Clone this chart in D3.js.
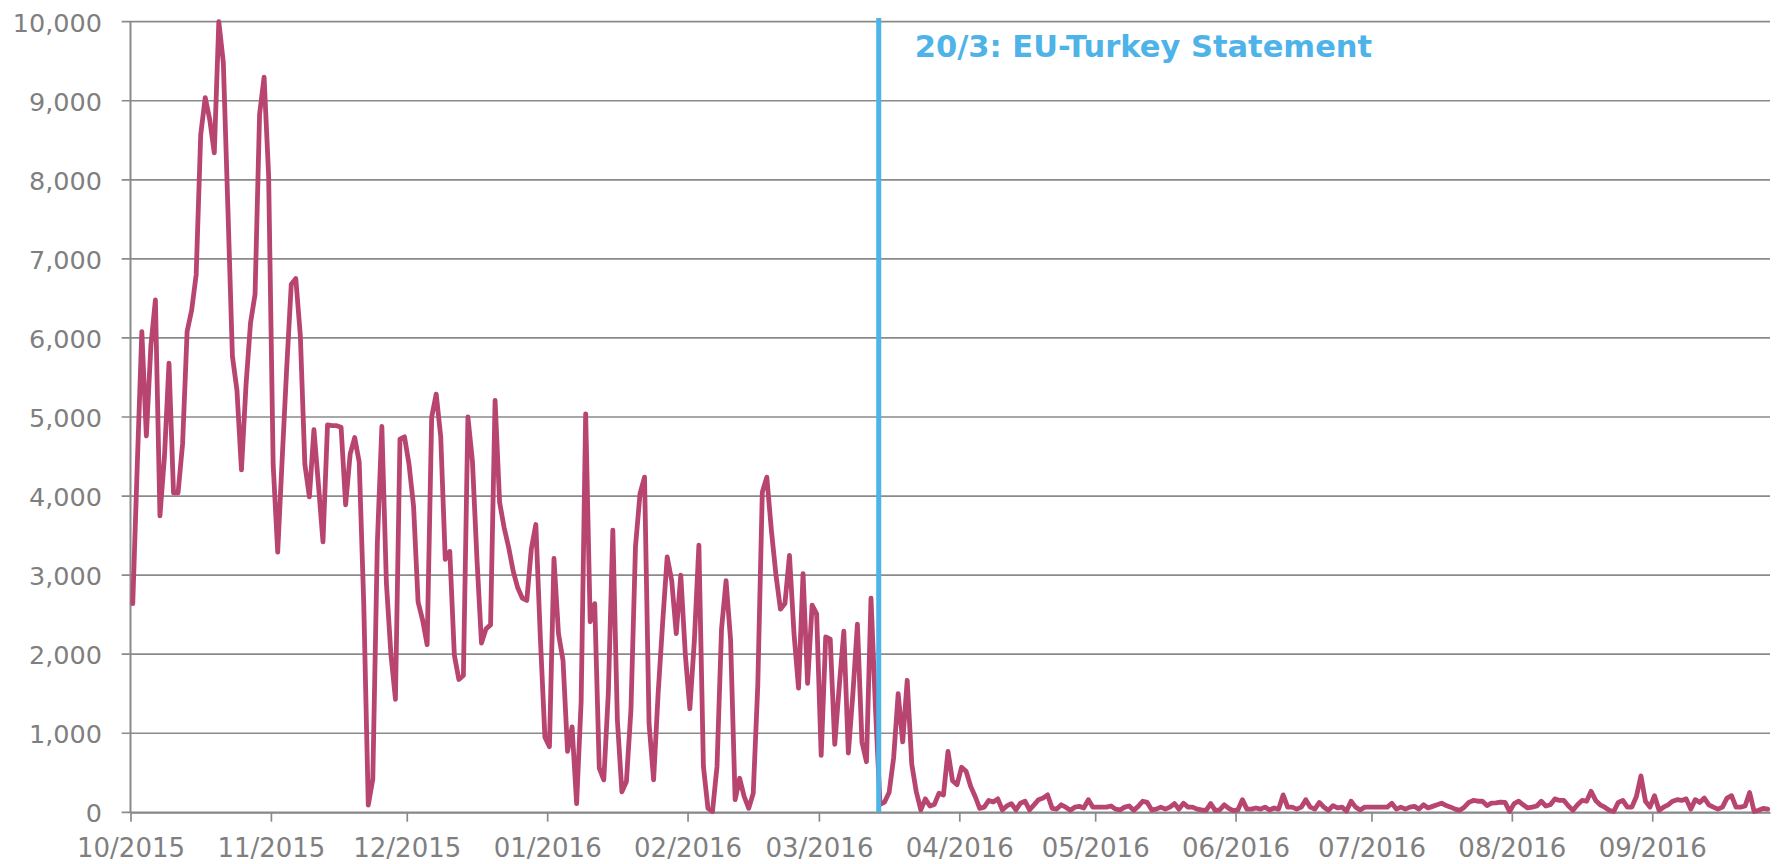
<!DOCTYPE html>
<html>
<head>
<meta charset="utf-8">
<script src="https://cdn.jsdelivr.net/npm/d3@7"></script>
<style>
  html, body { margin: 0; padding: 0; background: #ffffff; }
  svg { display: block; }
</style>
</head>
<body>
<svg id="chart" width="1777" height="864"></svg>
<script>
// ---------------- DATA (daily arrivals) ----------------
const startDate = new Date(2015, 9, 1); // 1 Oct 2015

const oct2015 = [2640,4400,6080,4760,5900,6480,3750,4500,5680,4040,4040,4660,6080,6350,6800,8570,9040,8760,8340,10000,9480,7650,5770,5340,4330,5400,6190,6550,8830,9300,8050];
const nov2015 = [4400,3290,4480,5630,6680,6750,6030,4400,3990,4840,4140,3420,4900,4890,4890,4870,3890,4530,4740,4430,2640,90,420,3400,4880,2900,2000,1430,4720,4750];
const dec2015 = [4400,3870,2660,2430,2120,5000,5290,4750,3200,3300,1990,1680,1730,5000,4440,3200,2140,2320,2370,5210,3920,3600,3350,3050,2840,2710,2680,3330,3640,2200,950];
const jan2016 = [830,3210,2260,1920,770,1080,110,1400,5040,2410,2640,560,410,1500,3570,1170,260,390,1300,3360,4030,4240,1120,410,1500,2400,3230,2930,2260,3000,2000];
const feb2016 = [1310,2170,3380,580,50,10,580,2320,2930,2180,160,430,200,50,240,1600,4050,4240,3570,3010,2570,2640,3250,2260,1570,3020,1630,2620,2510];
const mar2016 = [720,2220,2190,860,1600,2290,750,1500,2380,890,640,2710,1300,100,130,250,690,1500,890,1670,610,260,30,170,80,100,240,220,770,400,350];
const apr2016 = [570,520,330,200,50,65,150,130,170,30,80,110,30,115,140,30,95,160,180,220,50,40,95,65,25,65,75,55,160,65];
const may2016 = [65,65,65,80,40,30,65,80,25,75,140,125,30,40,65,40,65,110,40,115,65,65,40,30,25,110,25,30,95,50,20];
const jun2016 = [30,160,40,40,55,40,65,30,55,40,220,65,65,40,65,160,65,40,125,65,25,85,55,65,15,140,65,30,65,65];
const jul2016 = [65,65,65,65,115,40,65,40,65,75,40,95,55,75,95,115,85,65,40,25,65,125,150,140,140,85,115,120,130,125,10];
const aug2016 = [110,140,95,55,65,80,140,80,95,170,150,150,80,25,95,150,140,265,150,95,65,25,10,125,150,65,65,200,460,140,65];
const sep2016 = [210,25,65,95,140,160,150,170,40,160,125,180,95,65,40,65,180,210,65,65,80,250,10,25,50,40];

const dailyArrivals = [].concat(oct2015, nov2015, dec2015, jan2016, feb2016, mar2016,
                                apr2016, may2016, jun2016, jul2016, aug2016, sep2016);

const yTickValues = [0,1000,2000,3000,4000,5000,6000,7000,8000,9000,10000];
const monthTickDates = [
  new Date(2015,9,1), new Date(2015,10,1), new Date(2015,11,1),
  new Date(2016,0,1), new Date(2016,1,1), new Date(2016,2,1),
  new Date(2016,3,1), new Date(2016,4,1), new Date(2016,5,1),
  new Date(2016,6,1), new Date(2016,7,1), new Date(2016,8,1)
];
const statementLabel = "20/3: EU-Turkey Statement";
const statementDate = new Date(2016, 2, 14, 5); // where the marker sits on the picture's axis

// ---------------- LAYOUT ----------------
const plotLeft = 130.5, plotRight = 1770, plotTop = 21.7, plotBottom = 812.3;
const gray = "#8a8a8a", textGray = "#7f7f7f";
const lineColor = "#b7456f", blue = "#4db3e8";
const font = "'DejaVu Sans', Verdana, sans-serif";

const svg = d3.select("#chart");

// each day's point sits in the middle of its day slot
const series = dailyArrivals.map((v, i) => ({
  date: d3.timeHour.offset(d3.timeDay.offset(startDate, i), 12),
  value: v
}));

const x = d3.scaleTime()
  .domain([startDate, d3.timeDay.offset(startDate, dailyArrivals.length)])
  .range([plotLeft, plotRight]);
const y = d3.scaleLinear().domain([0, 10000]).range([plotBottom, plotTop]);

// gridlines (with small left tick extension)
svg.append("g").selectAll("line")
  .data(yTickValues)
  .join("line")
  .attr("x1", plotLeft - 8.8)
  .attr("x2", plotRight)
  .attr("y1", d => y(d))
  .attr("y2", d => y(d))
  .attr("stroke", gray)
  .attr("stroke-width", 1.7);

// left axis line
svg.append("line")
  .attr("x1", plotLeft).attr("x2", plotLeft)
  .attr("y1", y(10000)).attr("y2", y(0))
  .attr("stroke", gray).attr("stroke-width", 2);

// y axis labels
const yAxis = svg.append("g")
  .attr("transform", `translate(${plotLeft},0)`)
  .call(d3.axisLeft(y).tickValues(yTickValues).tickFormat(d3.format(",")).tickSize(0).tickPadding(28.5));
yAxis.select(".domain").remove();
yAxis.selectAll("text")
  .attr("fill", textGray)
  .attr("dy", "0.37em")
  .style("font-family", font)
  .style("font-size", "25.5px");

// x axis
const xAxis = svg.append("g")
  .attr("transform", `translate(0,${plotBottom})`)
  .call(d3.axisBottom(x).tickValues(monthTickDates).tickFormat(d3.timeFormat("%m/%Y"))
        .tickSizeInner(9.4).tickSizeOuter(0).tickPadding(16.8));
xAxis.select(".domain").attr("stroke", gray).attr("stroke-width", 1.7);
xAxis.selectAll(".tick line").attr("stroke", gray).attr("stroke-width", 1.7);
xAxis.selectAll("text")
  .attr("fill", textGray)
  .style("font-family", font)
  .style("font-size", "26px");

// data line
const line = d3.line().x(d => x(d.date)).y(d => y(d.value));
svg.append("path")
  .datum(series)
  .attr("d", line)
  .attr("fill", "none")
  .attr("stroke", lineColor)
  .attr("stroke-width", 4.8)
  .attr("stroke-linejoin", "round")
  .attr("stroke-linecap", "round");

// statement marker
svg.append("line")
  .attr("x1", x(statementDate)).attr("x2", x(statementDate))
  .attr("y1", 18).attr("y2", y(0))
  .attr("stroke", blue).attr("stroke-width", 5);

svg.append("text")
  .attr("x", x(statementDate) + 36)
  .attr("y", 56.7)
  .attr("fill", blue)
  .style("font-family", font)
  .style("font-weight", "bold")
  .style("font-size", "30.5px")
  .text(statementLabel);
</script>
</body>
</html>
